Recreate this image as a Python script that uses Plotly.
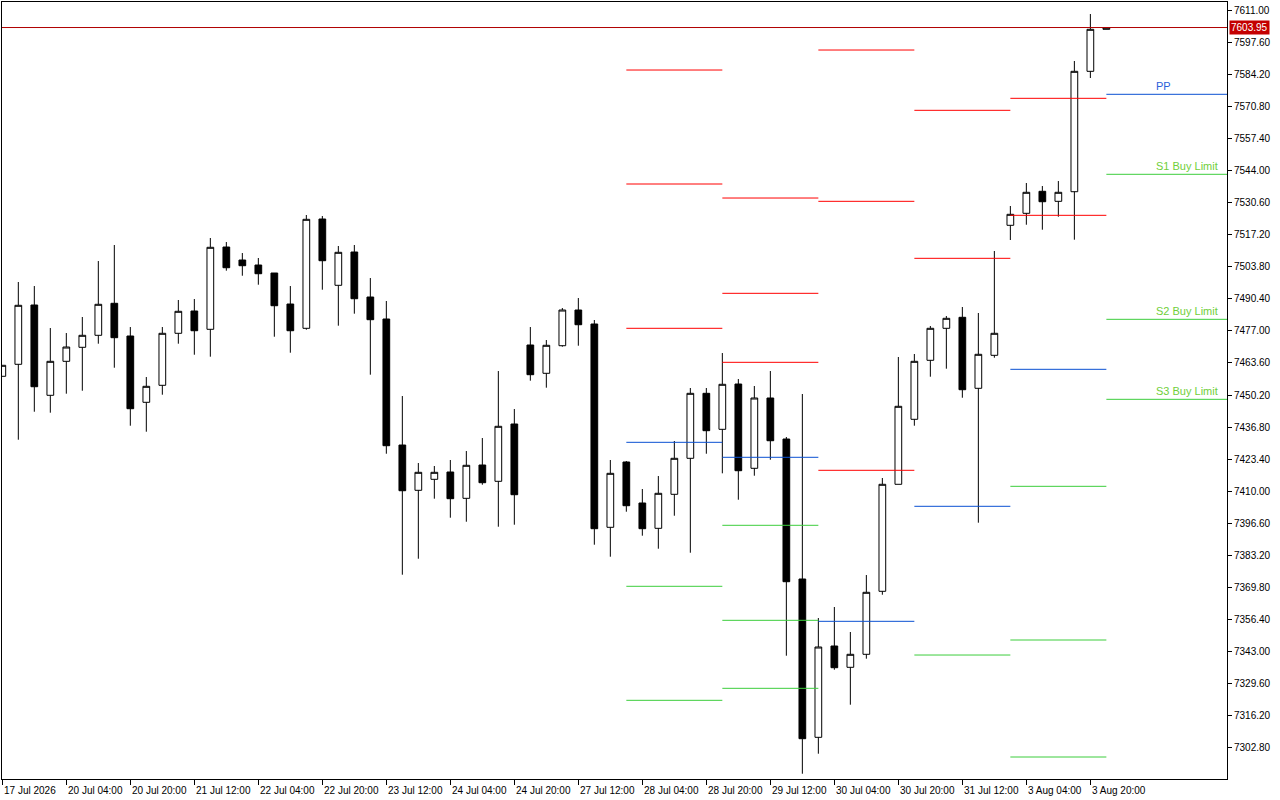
import plotly.graph_objects as go

# ---- 4H bars (index 0 = 17 Jul 2026 12:00) ----
bar_index = list(range(70))
opens = [7458.03, 7463.05, 7487.86, 7450.08, 7464.30, 7470.16, 7475.18, 7488.57, 7474.89, 7447.15,
         7454.26, 7476.02, 7485.35, 7477.69, 7512.12, 7506.68, 7504.59, 7501.24, 7488.27, 7478.11,
         7523.84, 7496.10, 7510.03, 7491.20, 7482.00, 7429.28, 7410.33, 7414.93, 7417.99, 7406.98,
         7420.92, 7414.10, 7438.07, 7471.12, 7459.28, 7470.83, 7485.76, 7479.91, 7394.85, 7422.17,
         7405.02, 7394.43, 7408.66, 7423.72, 7450.91, 7435.85, 7454.80, 7419.54, 7448.95, 7431.79,
         7373.22, 7306.99, 7345.19, 7336.28, 7341.72, 7368.08, 7412.84, 7440.04, 7464.72, 7478.11,
         7482.71, 7453.01, 7466.81, 7521.20, 7526.22, 7535.43, 7531.24, 7535.26, 7585.63, 7603.20]
highs = [7462.63, 7497.48, 7495.80, 7478.23, 7476.14, 7482.84, 7506.26, 7512.96, 7478.65, 7457.73,
         7478.65, 7489.95, 7490.37, 7515.89, 7514.21, 7509.61, 7507.52, 7501.24, 7495.80, 7525.51,
         7525.09, 7512.54, 7512.96, 7499.15, 7489.53, 7449.78, 7421.75, 7420.50, 7423.01, 7426.77,
         7432.21, 7460.24, 7444.35, 7478.65, 7473.21, 7486.60, 7490.78, 7481.58, 7423.01, 7422.59,
         7410.88, 7416.31, 7430.96, 7453.13, 7453.13, 7467.77, 7456.90, 7453.97, 7460.24, 7432.63,
         7450.62, 7356.90, 7361.51, 7351.05, 7374.89, 7415.48, 7466.10, 7467.36, 7479.07, 7483.25,
         7487.02, 7484.51, 7510.45, 7529.28, 7538.90, 7537.64, 7539.73, 7589.94, 7609.60, 7604.04]
lows = [7458.03, 7431.50, 7443.21, 7442.80, 7450.75, 7452.00, 7471.67, 7461.62, 7437.36, 7434.85,
        7450.33, 7471.67, 7467.06, 7466.23, 7502.21, 7500.11, 7496.35, 7474.59, 7467.90, 7477.52,
        7494.26, 7479.20, 7484.22, 7458.70, 7425.64, 7375.02, 7381.71, 7406.82, 7398.87, 7397.19,
        7412.67, 7395.10, 7395.94, 7456.19, 7453.26, 7470.41, 7470.83, 7387.57, 7382.55, 7401.38,
        7391.34, 7385.90, 7399.70, 7384.22, 7425.64, 7417.44, 7406.40, 7416.44, 7423.13, 7341.13,
        7291.76, 7300.13, 7335.27, 7320.63, 7339.88, 7366.65, 7412.84, 7437.36, 7457.86, 7461.21,
        7449.07, 7396.78, 7465.81, 7515.05, 7521.45, 7519.36, 7524.80, 7515.18, 7582.83, 7603.20]
closes = [7462.63, 7487.73, 7453.67, 7464.30, 7470.28, 7475.18, 7488.15, 7474.18, 7444.47, 7453.84,
          7476.02, 7485.22, 7477.10, 7512.00, 7503.46, 7504.30, 7500.95, 7487.56, 7477.10, 7523.71,
          7506.39, 7509.90, 7490.49, 7481.71, 7428.99, 7410.16, 7417.86, 7417.86, 7406.82, 7420.79,
          7413.51, 7437.11, 7408.49, 7458.70, 7471.00, 7485.76, 7479.61, 7394.27, 7417.44, 7403.89,
          7394.27, 7409.08, 7423.72, 7450.91, 7435.27, 7454.68, 7418.53, 7448.95, 7431.08, 7372.09,
          7306.41, 7344.77, 7336.11, 7341.72, 7367.66, 7412.84, 7445.48, 7464.30, 7478.11, 7482.29,
          7452.42, 7467.23, 7476.02, 7525.80, 7535.01, 7531.07, 7535.01, 7585.63, 7603.20, 7603.95]

# ---- time axis labels ----
tick_idx = [0, 4, 8, 12, 16, 20, 24, 28, 32, 36, 40, 44, 48, 52, 56, 60, 64, 68]
tick_text = ["17 Jul 2026", "20 Jul 04:00", "20 Jul 20:00", "21 Jul 12:00", "22 Jul 04:00",
             "22 Jul 20:00", "23 Jul 12:00", "24 Jul 04:00", "24 Jul 20:00", "27 Jul 12:00",
             "28 Jul 04:00", "28 Jul 20:00", "29 Jul 12:00", "30 Jul 04:00", "30 Jul 20:00",
             "31 Jul 12:00", "3 Aug 04:00", "3 Aug 20:00"]

# ---- price axis labels ----
price_ticks = [7611.00, 7597.60, 7584.20, 7570.80, 7557.40, 7544.00, 7530.60, 7517.20,
               7503.80, 7490.40, 7477.00, 7463.60, 7450.20, 7436.80, 7423.40, 7410.00,
               7396.60, 7383.20, 7369.80, 7356.40, 7343.00, 7329.60, 7316.20, 7302.80]

# ---- daily pivot levels (28 Jul .. 4 Aug) ----
day_start = [39, 45, 51, 57, 63, 69]
day_end = [45, 51, 57, 63, 69, 78]
r3 = [7586.17, 7532.62, 7594.54, None, None, None]
r2 = [7538.48, 7492.75, 7531.24, 7569.31, 7574.33, None]
r1 = [7478.11, 7463.88, 7418.70, 7507.39, 7525.38, None]
pp = [7430.41, 7424.14, 7355.52, 7403.64, 7460.95, 7576.01]
s1 = [7370.17, 7395.69, None, 7341.42, 7412.00, 7542.54]
s2 = [7322.47, 7355.94, None, None, 7347.70, 7481.87]
s3 = [None, 7327.49, None, None, 7298.75, 7448.40]
level_labels = ["PP", "S1 Buy Limit", "S2 Buy Limit", "S3 Buy Limit"]

RED = "#ff0000"
BLUE = "#0a50d2"
GREEN = "#3ccd3c"
FONT = "Liberation Sans"

fig = go.Figure()

def segments(levels_list):
    xs, ys = [], []
    for levels in levels_list:
        for s, e, v in zip(day_start, day_end, levels):
            if v is None:
                continue
            xs += [s, e, None]
            ys += [v, v, None]
    return xs, ys

for lv, col in [([r3, r2, r1], RED), ([pp], BLUE), ([s1, s2, s3], GREEN)]:
    xs, ys = segments(lv)
    fig.add_trace(go.Scatter(x=xs, y=ys, mode="lines",
                             line=dict(color=col, width=1), hoverinfo="skip",
                             showlegend=False))

fig.add_trace(go.Candlestick(
    x=bar_index, open=opens, high=highs, low=lows, close=closes,
    increasing=dict(line=dict(color="black", width=1), fillcolor="white"),
    decreasing=dict(line=dict(color="black", width=1), fillcolor="black"),
    whiskerwidth=0, showlegend=False, hoverinfo="skip"))

# current price line
fig.add_shape(type="line", xref="paper", x0=0, x1=1, yref="y",
              y0=closes[-1], y1=closes[-1], line=dict(color="#b00000", width=1))

annotations = []
# price tag
annotations.append(dict(xref="paper", x=1, xanchor="left", xshift=2, yref="y",
                        y=closes[-1], yanchor="middle", text=f"{closes[-1]:.2f}",
                        showarrow=False, bgcolor="#c40000", borderpad=1,
                        font=dict(family=FONT, size=10, color="white")))
# pivot labels on last day
last_vals = [pp[-1], s1[-1], s2[-1], s3[-1]]
for txt, val in zip(level_labels, last_vals):
    annotations.append(dict(x=day_start[-1] + 3, xref="x", xanchor="left", y=val, yref="y",
                            yanchor="middle", yshift=8, text=txt, showarrow=False,
                            font=dict(family=FONT, size=11,
                                      color="#2b5fd9" if txt == "PP" else "#6fcf3a")))
# time labels
for ti, tt in zip(tick_idx, tick_text):
    annotations.append(dict(x=ti, xref="x", xanchor="left", xshift=0, y=0, yref="paper",
                            yanchor="top", yshift=-4, text=tt, showarrow=False,
                            font=dict(family=FONT, size=10, color="black")))

fig.update_layout(
    width=1280, height=800,
    margin=dict(l=2, r=53, t=2, b=21, autoexpand=False),
    paper_bgcolor="white", plot_bgcolor="white",
    boxgap=0.4, hovermode=False, showlegend=False,
    annotations=annotations,
    xaxis=dict(range=[-0.02, 76.54], showgrid=False, zeroline=False,
               showline=True, mirror=True, linecolor="black", linewidth=1,
               tickvals=tick_idx, ticks="outside", ticklen=5, tickcolor="black",
               showticklabels=False, rangeslider=dict(visible=False), automargin=False),
    yaxis=dict(range=[7289.55, 7614.63], side="right", showgrid=False, zeroline=False,
               showline=True, mirror=True, linecolor="black", linewidth=1,
               tickvals=price_ticks, ticktext=[f"{v:.2f}" for v in price_ticks],
               ticks="outside", ticklen=4,
               tickcolor="black", automargin=False,
               tickfont=dict(family=FONT, size=10, color="black")),
)

fig.write_html("out.html", config={"displayModeBar": False},
               post_script="document.body.style.margin='0px';")
